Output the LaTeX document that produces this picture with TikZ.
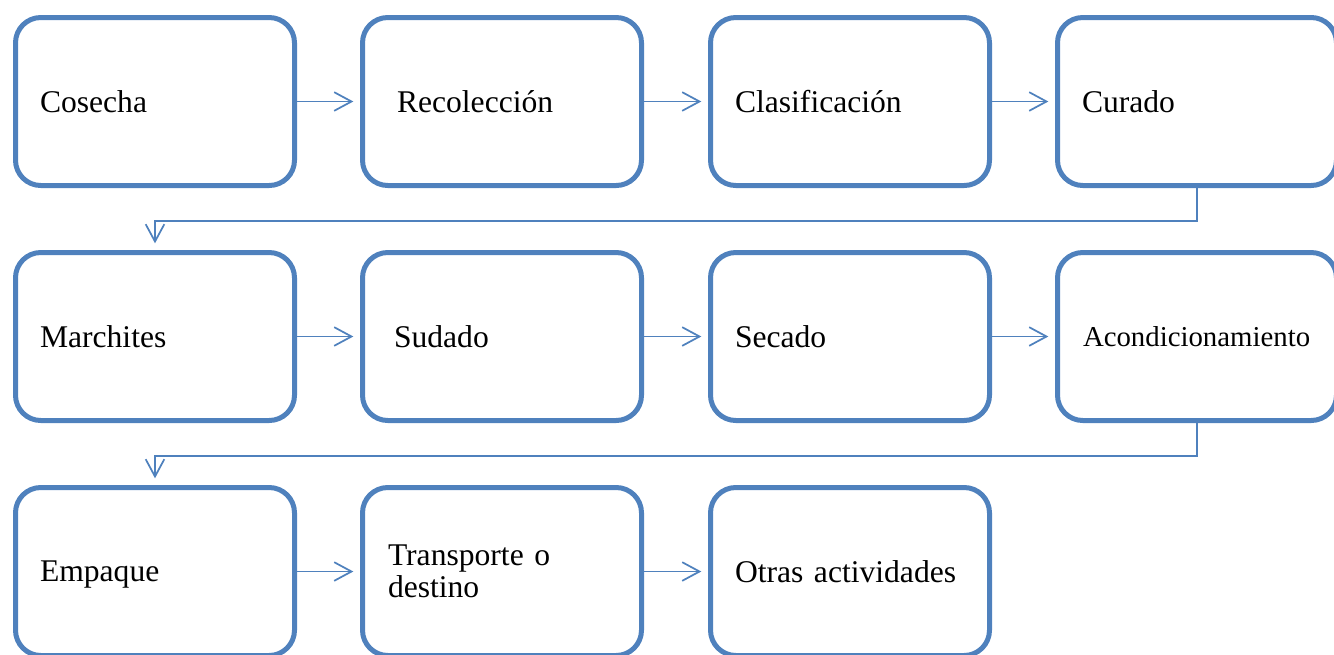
\documentclass[tikz,border=0pt]{standalone}
\usepackage{fontspec}
\setmainfont{Liberation Serif}
\usetikzlibrary{arrows.meta}
\definecolor{boxblue}{HTML}{4F81BD}

\begin{document}
\begin{tikzpicture}[x=0.75pt,y=-0.75pt,
	paso/.style={draw=boxblue, line width=3.75pt, rounded corners=19pt,
		minimum width=209.25pt, minimum height=126pt, inner xsep=1pt,
		text width=172.5pt, text depth=0pt, align=left,
		font=\fontsize{23.7pt}{24pt}\selectfont},
	flecha/.style={draw=boxblue, line width=1.3pt,
		-{Straight Barb[length=13pt,width=14pt]}, shorten >=5pt}]

			% page frame, the right column and the last row run off the edge
			\useasboundingbox (0,0) rectangle (1334,654);

			% first row
			\node[paso] (cosecha) at (155,101.5) {Cosecha};
			\node[paso, text width=157.5pt] (recoleccion) at (502,101.5) {Recolección};
			\node[paso] (clasificacion) at (850,101.5) {Clasificación};
			\node[paso] (curado) at (1197,101.5) {Curado};

			% second row
			\node[paso] (marchites) at (155,336.5) {Marchites};
			\node[paso, text width=162pt] (sudado) at (502,336.5) {Sudado};
			\node[paso] (secado) at (850,336.5) {Secado};
			\node[paso, text width=171pt, font=\fontsize{21.6pt}{24pt}\selectfont]
				(acondicionamiento) at (1197,336.5) {Acondicionamiento};

			% third row
			\node[paso] (empaque) at (155,571.5) {Empaque};
			\node[paso, text width=171pt, text depth=] (transporte) at (502,571.5) {Transporte o\\destino};
			\node[paso] (otras) at (850,571.5) {Otras actividades};

			% arrows along each row
			\foreach \a/\b in {cosecha/recoleccion, recoleccion/clasificacion,
				clasificacion/curado, marchites/sudado, sudado/secado,
				secado/acondicionamiento, empaque/transporte, transporte/otras}
				\draw[flecha] (\a) -- (\b);

			% arrows from one row down to the next
			\draw[flecha] (curado.south) -- ++(0,33) -| (marchites.north);
			\draw[flecha] (acondicionamiento.south) -- ++(0,33) -| (empaque.north);

\end{tikzpicture}
\end{document}
